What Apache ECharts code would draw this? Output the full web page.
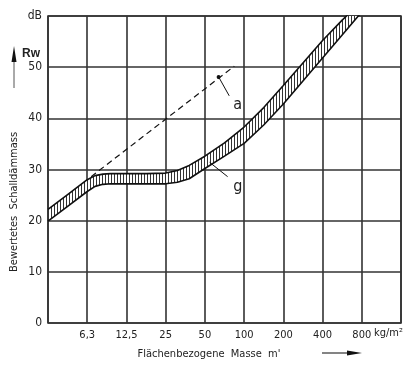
<!DOCTYPE html>
<html>
<head>
<meta charset="utf-8">
<script src="https://cdn.jsdelivr.net/npm/echarts@6/dist/echarts.min.js"></script>
<style>
  html, body { margin: 0; padding: 0; background: #fff; }
  #chart { width: 407px; height: 367px; }
</style>
</head>
<body>
<div id="chart"></div>
<script>
// x positions are octave steps: 0 = 3,15 ... 9 = 1600 kg/m2
const xTickLabels = ['', '6,3', '12,5', '25', '50', '100', '200', '400', '800', ''];

// band g (hatched), sampled at common x positions
const bandX = [0, 0.5, 1, 1.2, 1.4, 1.6, 2, 2.5, 3, 3.3, 3.6, 4, 4.5, 5, 5.5, 6, 6.5, 7, 7.5, 8];
const bandUpper = [22.2, 25.1, 28.0, 28.8, 29.1, 29.2, 29.2, 29.2, 29.3, 29.8, 30.8, 32.6, 35.2, 38.3, 42.1, 46.4, 50.8, 55.2, 59.2, 62.8];
const bandLower = [19.9, 22.8, 25.7, 26.7, 27.1, 27.2, 27.2, 27.2, 27.2, 27.5, 28.2, 30.2, 32.6, 35.1, 38.7, 42.8, 47.3, 51.8, 56.3, 60.8];

// dashed line a
const lineA = [[1.1, 28.6], [4.75, 50.2]];

// leaders and their labels
const leaderA = [[4.35, 48.1], [4.62, 44.4]];
const leaderG = [[4.12, 31.4], [4.58, 28.6]];
const labelA = { text: 'a', at: [4.72, 42.6] };
const labelG = { text: 'g', at: [4.72, 26.6] };

const font = "'DejaVu Sans Condensed', 'Liberation Sans', sans-serif";
const ink = '#222';

const hatch = document.createElement('canvas');
hatch.width = 3;
hatch.height = 4;
const hctx = hatch.getContext('2d');
hctx.fillStyle = '#fff';
hctx.fillRect(0, 0, 3, 4);
hctx.fillStyle = '#333';
hctx.fillRect(0, 0, 1, 4);

const upperData = bandX.map((x, i) => [x, bandUpper[i]]);
const lowerData = bandX.map((x, i) => [x, bandLower[i]]);

const chart = echarts.init(document.getElementById('chart'));

const option = {
  backgroundColor: '#fff',
  animation: false,
  grid: {
    left: 48,
    right: 6,
    top: 16,
    bottom: 44,
    show: true,
    borderColor: '#333',
    borderWidth: 1.6,
  },
  xAxis: {
    type: 'value',
    min: 0,
    max: 9,
    interval: 1,
    axisLine: { show: false },
    axisTick: { show: false },
    axisLabel: {
      color: ink,
      fontFamily: font,
      fontSize: 11,
      margin: 7,
      formatter: v => xTickLabels[Math.round(v)] || '',
    },
    splitLine: { lineStyle: { color: '#333', width: 1.6 } },
  },
  yAxis: {
    type: 'value',
    min: 0,
    max: 60,
    interval: 10,
    axisLine: { show: false },
    axisTick: { show: false },
    axisLabel: {
      color: ink,
      fontFamily: font,
      fontSize: 12,
      margin: 6,
      formatter: v => (v === 60 ? 'dB' : String(v)),
    },
    splitLine: { lineStyle: { color: '#333', width: 1.6 } },
  },
  series: [
    {
      // hatched fill between the two edges of band g
      type: 'custom',
      clip: true,
      data: [0],
      renderItem: (params, api) => {
        const pts = upperData.map(p => api.coord(p))
          .concat(lowerData.slice().reverse().map(p => api.coord(p)));
        return {
          type: 'polygon',
          shape: { points: pts },
          style: { fill: { image: hatch, repeat: 'repeat' }, stroke: null },
        };
      },
      z: 2,
    },
    {
      type: 'line',
      data: upperData,
      symbol: 'none',
      lineStyle: { color: '#111', width: 1.6 },
      z: 3,
    },
    {
      type: 'line',
      data: lowerData,
      symbol: 'none',
      lineStyle: { color: '#111', width: 1.6 },
      z: 3,
    },
    {
      type: 'line',
      data: lineA,
      symbol: 'none',
      lineStyle: { color: '#111', width: 1.2, type: [6, 4] },
      z: 4,
    },
    {
      type: 'line',
      data: leaderA,
      symbol: 'circle',
      symbolSize: (v, p) => (p.dataIndex === 0 ? 4 : 0),
      showSymbol: true,
      itemStyle: { color: '#111' },
      lineStyle: { color: '#111', width: 1 },
      z: 5,
    },
    {
      type: 'line',
      data: leaderG,
      symbol: 'none',
      lineStyle: { color: '#111', width: 1 },
      z: 5,
    },
  ],
};

chart.setOption(option);

const pa = chart.convertToPixel({ gridIndex: 0 }, labelA.at);
const pg = chart.convertToPixel({ gridIndex: 0 }, labelG.at);
const textStyle = (t, fs) => ({ text: t, fill: ink, font: fs + 'px ' + font });

chart.setOption({
  graphic: [
    { type: 'text', x: pa[0], y: pa[1], style: Object.assign(textStyle(labelA.text, 16), { textVerticalAlign: 'middle' }) },
    { type: 'text', x: pg[0], y: pg[1], style: Object.assign(textStyle(labelG.text, 16), { textVerticalAlign: 'middle' }) },
    { type: 'text', x: 40, y: 54, style: Object.assign(textStyle('Rw', 11), { textAlign: 'right', textVerticalAlign: 'middle', fontWeight: 'bold' }) },
    { type: 'text', x: 374, y: 333, style: Object.assign(textStyle('kg/m²', 11), { textVerticalAlign: 'middle' }) },
    {
      type: 'text', x: 14, y: 202, rotation: Math.PI / 2,
      style: Object.assign(textStyle('Bewertetes  Schalldämmass', 11), { textAlign: 'center', textVerticalAlign: 'middle' }),
    },
    { type: 'text', x: 209, y: 354, style: Object.assign(textStyle("Flächenbezogene  Masse  m'", 11), { textAlign: 'center', textVerticalAlign: 'middle' }) },
    // arrows
    { type: 'line', shape: { x1: 14, y1: 60, x2: 14, y2: 88 }, style: { stroke: '#555', lineWidth: 1 } },
    { type: 'polygon', shape: { points: [[14, 46], [11.5, 62], [16.5, 62]] }, style: { fill: '#111' } },
    { type: 'line', shape: { x1: 322, y1: 353, x2: 348, y2: 353 }, style: { stroke: '#333', lineWidth: 1.2 } },
    { type: 'polygon', shape: { points: [[362, 353], [347, 350.5], [347, 355.5]] }, style: { fill: '#111' } },
  ],
});
</script>
</body>
</html>
